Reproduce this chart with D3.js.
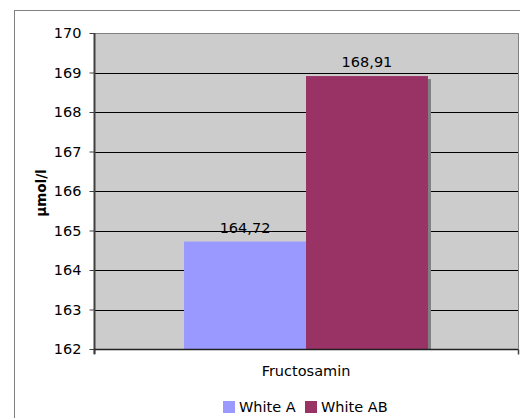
<!DOCTYPE html>
<html>
<head>
<meta charset="utf-8">
<script src="https://cdn.jsdelivr.net/npm/d3@7/dist/d3.min.js"></script>
<style>
  html, body { margin: 0; padding: 0; background: #fff; }
  svg { display: block; font-family: "DejaVu Sans", Verdana, sans-serif; }
</style>
</head>
<body>
<svg id="chart" width="520" height="418"></svg>
<script>
// Chart data
const categories = ["Fructosamin"];
const seriesNames = ["White A", "White AB"];
const seriesValues = [164.72, 168.91];
const seriesColors = ["#9999ff", "#993366"];
const yTicks = [162, 163, 164, 165, 166, 167, 168, 169, 170];
const yTitle = "µmol/l";

const svg = d3.select("#chart");
const W = 520, H = 418;
const plot = { left: 94, top: 33, right: 518, bottom: 349 };

// Outer chart frame
svg.append("rect")
  .attr("x", 14.5).attr("y", 10.5)
  .attr("width", W + 10).attr("height", H + 10)
  .attr("fill", "#fff").attr("stroke", "#808080").attr("stroke-width", 1);

const y = d3.scaleLinear().domain([162, 170]).range([plot.bottom, plot.top]);
const x0 = d3.scaleBand().domain(categories)
  .range([plot.left, plot.right]).paddingInner(0).paddingOuter(0.369);
const x1 = d3.scaleBand().domain(seriesNames).range([0, x0.bandwidth()]).padding(0);

// Plot background
svg.append("rect")
  .attr("x", plot.left + 0.5).attr("y", plot.top + 0.5)
  .attr("width", plot.right - plot.left).attr("height", plot.bottom - plot.top)
  .attr("fill", "#cccccc").attr("stroke", "#808080").attr("stroke-width", 1);

// Horizontal gridlines
svg.append("g").selectAll("line")
  .data(yTicks.filter(t => t > 162 && t < 170))
  .join("line")
  .attr("x1", plot.left).attr("x2", plot.right)
  .attr("y1", d => Math.round(y(d)) + 0.5).attr("y2", d => Math.round(y(d)) + 0.5)
  .attr("stroke", "#000").attr("stroke-width", 1);

// Bars with shadows
const rows = seriesNames.map((s, i) => ({ name: s, value: seriesValues[i], color: seriesColors[i], cat: categories[0] }));
const barG = svg.append("g");
rows.forEach(d => {
  const bx = x0(d.cat) + x1(d.name);
  const by = y(d.value);
  barG.append("rect")
    .attr("x", bx + 3).attr("y", by + 3)
    .attr("width", x1.bandwidth()).attr("height", plot.bottom - by - 3)
    .attr("fill", "#808080");
  barG.append("rect")
    .attr("x", bx).attr("y", by)
    .attr("width", x1.bandwidth()).attr("height", plot.bottom - by)
    .attr("fill", d.color);
});

// Value labels
const fmt = v => v.toFixed(2).replace(".", ",");
svg.append("g").selectAll("text")
  .data(rows)
  .join("text")
  .attr("x", d => x0(d.cat) + x1(d.name) + x1.bandwidth() / 2)
  .attr("y", d => y(d.value) - 9)
  .attr("text-anchor", "middle")
  .attr("font-size", "14.5px")
  .attr("fill", "#000")
  .text(d => fmt(d.value));

// Y axis
const yAxis = d3.axisLeft(y).tickValues(yTicks).tickSize(5).tickPadding(8).tickFormat(d3.format("d"));
const gy = svg.append("g")
  .attr("transform", `translate(${plot.left + 0.5},0)`)
  .call(yAxis);
gy.select(".domain").attr("stroke", "#404040").attr("stroke-width", 2).attr("d", `M0,${plot.top}V${plot.bottom + 5}`);
gy.selectAll(".tick line").attr("stroke", "#404040");
gy.selectAll(".tick text").attr("font-size", "14.5px").attr("fill", "#000")
  .attr("font-family", "DejaVu Sans, Verdana, sans-serif");

// X axis
const xAxis = d3.axisBottom(x0).tickSize(0).tickPadding(16);
const gx = svg.append("g")
  .attr("transform", `translate(0,${plot.bottom + 0.5})`)
  .call(xAxis);
gx.select(".domain").attr("stroke", "#202020").attr("stroke-width", 1.5)
  .attr("d", `M${plot.left},0H${plot.right}`);
gx.selectAll(".tick text").attr("font-size", "14.5px").attr("fill", "#000")
  .attr("font-family", "DejaVu Sans, Verdana, sans-serif");
// End ticks on the category axis
gx.append("g").selectAll("line")
  .data([plot.left, plot.right])
  .join("line")
  .attr("x1", d => d + 0.5).attr("x2", d => d + 0.5)
  .attr("y1", 0).attr("y2", 5)
  .attr("stroke", "#404040").attr("stroke-width", 1.5);

// Y axis title
svg.append("text")
  .attr("transform", "translate(46,193) rotate(-90)")
  .attr("text-anchor", "middle")
  .attr("font-size", "13.5px")
  .attr("font-weight", "bold")
  .attr("fill", "#000")
  .text(yTitle);

// Legend
const legend = svg.append("g");
const legendX = [223, 305];
rows.forEach((d, i) => {
  legend.append("rect")
    .attr("x", legendX[i]).attr("y", 401)
    .attr("width", 12).attr("height", 12)
    .attr("fill", d.color);
  legend.append("text")
    .attr("x", legendX[i] + 16).attr("y", 412)
    .attr("font-size", "14.5px").attr("fill", "#000")
    .text(d.name);
});
</script>
</body>
</html>
